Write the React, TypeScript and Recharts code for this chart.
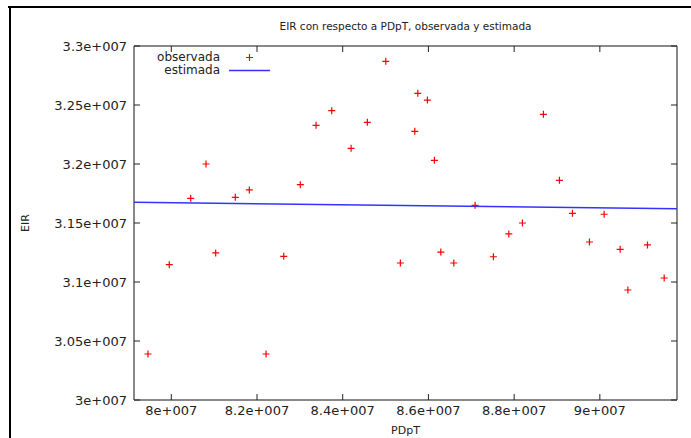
import { Legend, Scatter, ScatterChart, XAxis, YAxis } from "recharts";

// PDpT / EIR, observada
const obsPDpT = [
  79456000, 79953000, 80453000, 80810000, 81036000, 81494000, 81821000, 82211000, 82624000,
  83011000, 83378000, 83744000, 84195000, 84575000, 85005000, 85345000, 85682000, 85752000,
  85976000, 86139000, 86289000, 86592000, 87089000, 87516000, 87876000, 88193000, 88683000,
  89057000, 89360000, 89757000, 90100000, 90474000, 90654000, 91111000, 91501000,
];
const obsEIR = [
  30390000, 31147000, 31709000, 32000000, 31246000, 31718000, 31780000, 30390000, 31218000,
  31825000, 32328000, 32452000, 32133000, 32353000, 32870000, 31161000, 32277000, 32599000,
  32542000, 32031000, 31254000, 31161000, 31650000, 31214000, 31407000, 31500000, 32421000,
  31862000, 31582000, 31339000, 31574000, 31277000, 30932000, 31314000, 31034000,
];

// estimada (recta)
const estPDpT = [79130000, 91800000];
const estEIR = [31675000, 31621000];

const xDomain = [79130000, 91800000];
const yDomain = [30000000, 33000000];
const xTicks = [80000000, 82000000, 84000000, 86000000, 88000000, 90000000];
const xTickLabels = ["8e+007", "8.2e+007", "8.4e+007", "8.6e+007", "8.8e+007", "9e+007"];
const yTicks = [30000000, 30500000, 31000000, 31500000, 32000000, 32500000, 33000000];
const yTickLabels = ["3e+007", "3.05e+007", "3.1e+007", "3.15e+007", "3.2e+007", "3.25e+007", "3.3e+007"];

const observada = obsPDpT.map((x, i) => ({ x, y: obsEIR[i] }));
const estimada = estPDpT.map((x, i) => ({ x, y: estEIR[i] }));

const FONT = "'DejaVu Sans', Verdana, sans-serif";
const AXIS_COLOR = "#606060";
const TEXT_COLOR = "#222";

const Cross = (props: any) => {
  const { cx, cy } = props;
  return (
    <path
      d={`M${cx - 3.5},${cy}H${cx + 3.5}M${cx},${cy - 3.5}V${cy + 3.5}`}
      stroke="#ff0000"
      strokeWidth={1.2}
      fill="none"
    />
  );
};

const Empty = () => <g />;

const GnuLegend = () => (
  <div style={{ fontFamily: FONT, fontSize: 12, color: TEXT_COLOR, lineHeight: "13px" }}>
    <div style={{ display: "flex", alignItems: "center", height: 13 }}>
      <span style={{ width: 82, textAlign: "right" }}>observada</span>
      <svg width={50} height={13} style={{ marginLeft: 9 }}>
        <path d="M17,6.5H24M20.5,3V10" stroke="#ff0000" strokeWidth={1.2} />
      </svg>
    </div>
    <div style={{ display: "flex", alignItems: "center", height: 13 }}>
      <span style={{ width: 82, textAlign: "right" }}>estimada</span>
      <svg width={50} height={13} style={{ marginLeft: 9 }}>
        <line x1={0} x2={41} y1={6.5} y2={6.5} stroke="#3333ff" strokeWidth={1.5} />
      </svg>
    </div>
  </div>
);

export default function App() {
  return (
    <div
      style={{
        position: "absolute",
        left: 0,
        top: 0,
        width: 691,
        height: 438,
        background: "#fff",
        fontFamily: FONT,
        overflow: "hidden",
      }}
    >
      <div style={{ position: "absolute", left: 8, top: 6, width: 683, height: 2, background: "#000" }} />
      <div style={{ position: "absolute", left: 9, top: 6, width: 2, height: 432, background: "#000" }} />
      <div
        style={{
          position: "absolute",
          left: 134,
          width: 543,
          top: 20,
          textAlign: "center",
          fontSize: 10.5,
          color: TEXT_COLOR,
        }}
      >
        EIR con respecto a PDpT, observada y estimada
      </div>
      <ScatterChart width={691} height={438} margin={{ top: 45, right: 13, bottom: 8, left: 10 }}>
        <XAxis
          type="number"
          dataKey="x"
          domain={xDomain}
          ticks={xTicks}
          allowDataOverflow
          tickSize={-6}
          tickMargin={12}
          height={30}
          stroke={AXIS_COLOR}
          strokeWidth={1.5}
          tickLine={{ stroke: TEXT_COLOR, strokeWidth: 1 }}
          tick={{ fill: TEXT_COLOR, fontSize: 13, fontFamily: FONT }}
          tickFormatter={(v: number) => xTickLabels[xTicks.indexOf(v)]}
          label={{ value: "PDpT", position: "insideBottom", offset: -4, fill: TEXT_COLOR, fontSize: 11 }}
        />
        <XAxis
          xAxisId="top"
          orientation="top"
          type="number"
          dataKey="x"
          domain={xDomain}
          ticks={xTicks}
          allowDataOverflow
          tickSize={-6}
          height={1}
          stroke={AXIS_COLOR}
          strokeWidth={1.5}
          tickLine={{ stroke: TEXT_COLOR, strokeWidth: 1 }}
          tick={Empty}
        />
        <YAxis
          type="number"
          dataKey="y"
          domain={yDomain}
          ticks={yTicks}
          allowDataOverflow
          tickSize={-6}
          tickMargin={13}
          width={124}
          stroke={AXIS_COLOR}
          strokeWidth={1.5}
          tickLine={{ stroke: TEXT_COLOR, strokeWidth: 1 }}
          tick={{ fill: TEXT_COLOR, fontSize: 13, fontFamily: FONT }}
          tickFormatter={(v: number) => yTickLabels[yTicks.indexOf(v)]}
          label={{
            value: "EIR",
            angle: -90,
            position: "insideLeft",
            offset: 15,
            fill: TEXT_COLOR,
            fontSize: 11,
            style: { textAnchor: "middle" },
          }}
        />
        <YAxis
          yAxisId="right"
          orientation="right"
          type="number"
          dataKey="y"
          domain={yDomain}
          ticks={yTicks}
          allowDataOverflow
          tickSize={-6}
          width={1}
          stroke={AXIS_COLOR}
          strokeWidth={1.5}
          tickLine={{ stroke: TEXT_COLOR, strokeWidth: 1 }}
          tick={Empty}
        />
        <Legend
          layout="vertical"
          align="center"
          verticalAlign="middle"
          wrapperStyle={{ top: 51, left: 138, width: 150 }}
          content={() => <GnuLegend />}
        />
        {/* mirror axes (top/right) need a series of their own to get ticks */}
        <Scatter
          xAxisId="top"
          yAxisId="right"
          data={observada}
          shape={Empty}
          legendType="none"
          isAnimationActive={false}
        />
        <Scatter
          name="estimada"
          data={estimada}
          line={{ stroke: "#3333ff", strokeWidth: 1.5 }}
          shape={Empty}
          isAnimationActive={false}
        />
        <Scatter name="observada" data={observada} shape={Cross} isAnimationActive={false} />
      </ScatterChart>
    </div>
  );
}
